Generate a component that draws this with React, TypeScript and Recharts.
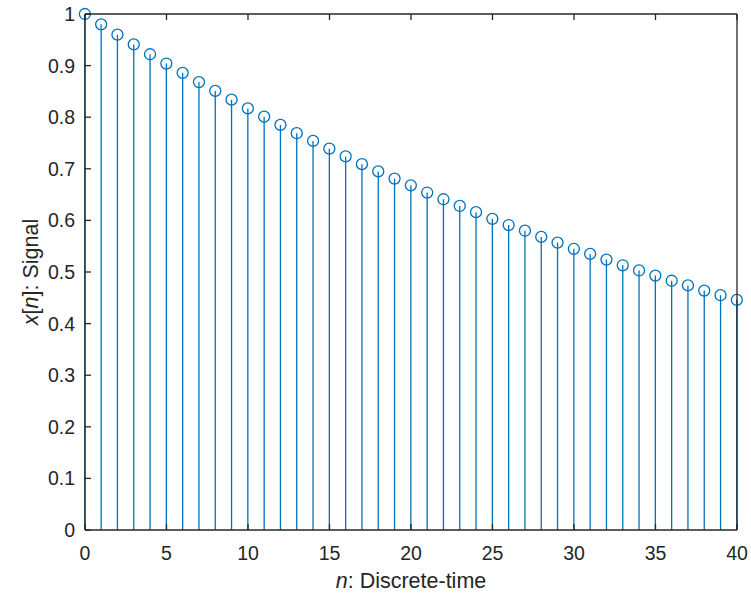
import { ComposedChart, Bar, XAxis, YAxis, Label } from 'recharts';

const nValues = [
  0, 1, 2, 3, 4, 5, 6, 7, 8, 9, 10, 11, 12, 13, 14, 15, 16, 17, 18, 19, 20,
  21, 22, 23, 24, 25, 26, 27, 28, 29, 30, 31, 32, 33, 34, 35, 36, 37, 38, 39, 40,
];
const signal = [
  1, 0.98, 0.96, 0.941, 0.922, 0.904, 0.886, 0.868, 0.851, 0.834, 0.817,
  0.801, 0.785, 0.769, 0.754, 0.739, 0.724, 0.709, 0.695, 0.681, 0.668,
  0.654, 0.641, 0.628, 0.616, 0.603, 0.591, 0.58, 0.568, 0.557, 0.545,
  0.535, 0.524, 0.513, 0.503, 0.493, 0.483, 0.474, 0.464, 0.455, 0.446,
];
const xTicks = [0, 5, 10, 15, 20, 25, 30, 35, 40];
const yTicks = [0, 0.1, 0.2, 0.3, 0.4, 0.5, 0.6, 0.7, 0.8, 0.9, 1];

const data = nValues.map((n, i) => ({ n, x: signal[i] }));

const AXIS = '#262626';
const BLUE = '#0072BD';
const FONT = '"Liberation Sans", Arial, Helvetica, sans-serif';
const FS = 19.5;
const LABEL_FS = 21.5;

const fmtY = (v: number) => String(+v.toFixed(1));

const StemShape = (props: any) => {
  const { x, y, width, height } = props;
  const cx = x + width / 2;
  return (
    <g>
      <line x1={cx} y1={y + height} x2={cx} y2={y} stroke={BLUE} strokeWidth={1.3} />
      <circle cx={cx} cy={y} r={5.5} fill="none" stroke={BLUE} strokeWidth={1.3} />
    </g>
  );
};

const LeftTick = (props: any) => {
  const { x, y, payload } = props;
  return (
    <g>
      <line x1={x} y1={y} x2={x + 6} y2={y} stroke={AXIS} strokeWidth={1.3} />
      <text x={x - 10} y={y + 7} textAnchor="end" fill={AXIS} fontSize={FS} fontFamily={FONT}>
        {fmtY(payload.value)}
      </text>
    </g>
  );
};

const RightTick = (props: any) => {
  const { x, y } = props;
  return <line x1={x} y1={y} x2={x - 6} y2={y} stroke={AXIS} strokeWidth={1.3} />;
};

const BottomTick = (props: any) => {
  const { x, y, payload } = props;
  return (
    <g>
      <line x1={x} y1={y} x2={x} y2={y - 6} stroke={AXIS} strokeWidth={1.3} />
      <text x={x} y={y + 30} textAnchor="middle" fill={AXIS} fontSize={FS} fontFamily={FONT}>
        {payload.value}
      </text>
    </g>
  );
};

const TopTick = (props: any) => {
  const { x, y } = props;
  return <line x1={x} y1={y} x2={x} y2={y + 6} stroke={AXIS} strokeWidth={1.3} />;
};

const XLabel = (props: any) => {
  const { x, y, width } = props.viewBox;
  return (
    <text x={x + width / 2} y={y + 58} textAnchor="middle" fill={AXIS} fontSize={LABEL_FS} fontFamily={FONT}>
      <tspan fontStyle="italic">n</tspan>
      <tspan>: Discrete-time</tspan>
    </text>
  );
};

const YLabel = (props: any) => {
  const { y, height } = props.viewBox;
  const cy = y + height / 2;
  return (
    <text
      x={38}
      y={cy}
      transform={`rotate(-90, 38, ${cy})`}
      textAnchor="middle"
      fill={AXIS}
      fontSize={LABEL_FS}
      fontFamily={FONT}
    >
      <tspan fontStyle="italic">x</tspan>
      <tspan>[</tspan>
      <tspan fontStyle="italic">n</tspan>
      <tspan>]: Signal</tspan>
    </text>
  );
};

export default function App() {
  return (
    <div style={{ position: 'absolute', left: 0, top: 0, background: '#fff' }}>
      <ComposedChart width={751} height={593} data={data} margin={{ top: 13, right: 13, bottom: 0, left: 0 }}>
        <XAxis
          xAxisId="b"
          dataKey="n"
          type="number"
          domain={[0, 40]}
          ticks={xTicks}
          height={63}
          tickSize={0}
          tickMargin={0}
          tickLine={false}
          axisLine={{ stroke: AXIS, strokeWidth: 1.3 }}
          tick={<BottomTick />}
          interval={0}
        >
          <Label content={<XLabel />} />
        </XAxis>
        <XAxis
          xAxisId="t"
          orientation="top"
          dataKey="n"
          type="number"
          domain={[0, 40]}
          ticks={xTicks}
          height={1}
          tickSize={0}
          tickMargin={0}
          tickLine={false}
          axisLine={{ stroke: AXIS, strokeWidth: 1.3 }}
          tick={<TopTick />}
          interval={0}
        />
        <YAxis
          yAxisId="l"
          type="number"
          domain={[0, 1]}
          ticks={yTicks}
          width={85}
          tickSize={0}
          tickMargin={0}
          tickLine={false}
          axisLine={{ stroke: AXIS, strokeWidth: 1.3 }}
          tick={<LeftTick />}
          interval={0}
        >
          <Label content={<YLabel />} />
        </YAxis>
        <YAxis
          yAxisId="r"
          orientation="right"
          type="number"
          domain={[0, 1]}
          ticks={yTicks}
          width={1}
          tickSize={0}
          tickMargin={0}
          tickLine={false}
          axisLine={{ stroke: AXIS, strokeWidth: 1.3 }}
          tick={<RightTick />}
          interval={0}
        />
        <Bar
          xAxisId="b"
          yAxisId="l"
          dataKey="x"
          barSize={2}
          shape={<StemShape />}
          isAnimationActive={false}
        />
      </ComposedChart>
    </div>
  );
}
